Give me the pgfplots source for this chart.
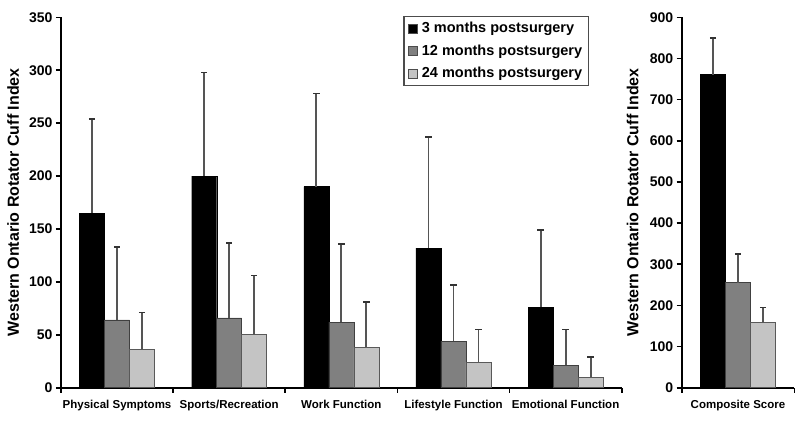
\documentclass[border=0pt]{standalone}
\usepackage{fontspec}
\setmainfont{Liberation Sans}
\usepackage{pgfplots}
\usepackage{pgfplotstable}
\pgfplotsset{compat=1.18}
\definecolor{cdark}{HTML}{808080}
\definecolor{clight}{HTML}{C4C4C4}
\definecolor{cerr}{HTML}{555555}

\pgfplotstableread{
x y3 e3 y12 e12 y24 e24
0 165 89 64 69 36 35
1 200 98 66 71 50 56
2 190 88 62 74 38 43
3 132 105 44 53 24 31
4 76 73 21 34 10 19
}\leftdata
\pgfplotstableread{
x y3 e3 y12 e12 y24 e24
0 761 88 255 70 158 37
}\rightdata

\pgfplotsset{
  mystyle/.style={
    scale only axis,
    ybar=0pt, bar width=25pt,
    ymin=0,
    axis x line*=bottom, axis y line*=left,
    axis line style={line width=1.6pt, black},
    every tick/.style={line width=1.6pt, black},
    tick align=outside,
    major tick length=5pt,
    minor tick length=5pt,
    major x tick style={draw=none},
    y tick label style={font=\fontsize{14}{15}\selectfont\bfseries},
    /pgf/number format/assume math mode=true,
    ylabel={Western Ontario Rotator Cuff Index},
    ylabel style={font=\fontsize{16}{18}\selectfont\bfseries, anchor=center},
    x tick label style={font=\fontsize{11.5}{12}\selectfont\bfseries, yshift=-4pt},
    area legend,
  },
  eb/.style={error bars/.cd, y dir=plus, y explicit,
    error bar style={line width=1.8pt, draw=cerr, solid},
    error mark options={line width=1.6pt, draw=black!80, mark size=3.2pt, rotate=90}},
  b3/.style={fill=black, draw=black, eb},
  b12/.style={fill=cdark, draw=black!75, line width=0.7pt, eb},
  b24/.style={fill=clight, draw=black!65, line width=0.7pt, eb},
}

\begin{document}
\begin{tikzpicture}
\path[use as bounding box] (0,0) rectangle (800pt,426pt);
\begin{axis}[mystyle,
  at={(61pt,38.3pt)}, anchor=south west,
  width=560.7pt, height=370.4pt,
  xmin=-0.5, xmax=4.5, ymax=350,
  ytick={0,50,...,350},
  xtick={0,1,2,3,4},
  xticklabels={Physical Symptoms, Sports/Recreation, Work Function, Lifestyle Function, Emotional Function},
  minor xtick={-0.5,0.5,1.5,2.5,3.5,4.5},
  ylabel style={at={(axis description cs:-0.0855,0.5)}},
  legend style={at={(0.6105,1.004)}, anchor=north west, draw=black!70, line width=1.2pt,
    font=\fontsize{14.5}{16}\selectfont\bfseries, cells={anchor=west}, row sep=6.5pt,
    inner xsep=4pt, inner ysep=4pt},
  legend image code/.code={\draw[#1, line width=0.7pt, draw=black!70] (0pt,-4.5pt) rectangle (9pt,4.5pt); \path (11pt,0pt);},
]
\addplot[b3] table[x=x, y=y3, y error=e3] {\leftdata};
\addplot[b12] table[x=x, y=y12, y error=e12] {\leftdata};
\addplot[b24] table[x=x, y=y24, y error=e24] {\leftdata};
\legend{3 months postsurgery, 12 months postsurgery, 24 months postsurgery}
\end{axis}
\begin{axis}[mystyle,
  at={(681.7pt,38.3pt)}, anchor=south west,
  width=112.6pt, height=370.4pt,
  xmin=-0.5, xmax=0.5, ymax=900,
  ytick={0,100,...,900},
  xtick={0},
  xticklabels={Composite Score},
  minor xtick={-0.5,0.5},
  ylabel style={at={(axis description cs:-0.435,0.5)}},
]
\addplot[b3] table[x=x, y=y3, y error=e3] {\rightdata};
\addplot[b12] table[x=x, y=y12, y error=e12] {\rightdata};
\addplot[b24] table[x=x, y=y24, y error=e24] {\rightdata};
\end{axis}
\end{tikzpicture}
\end{document}
